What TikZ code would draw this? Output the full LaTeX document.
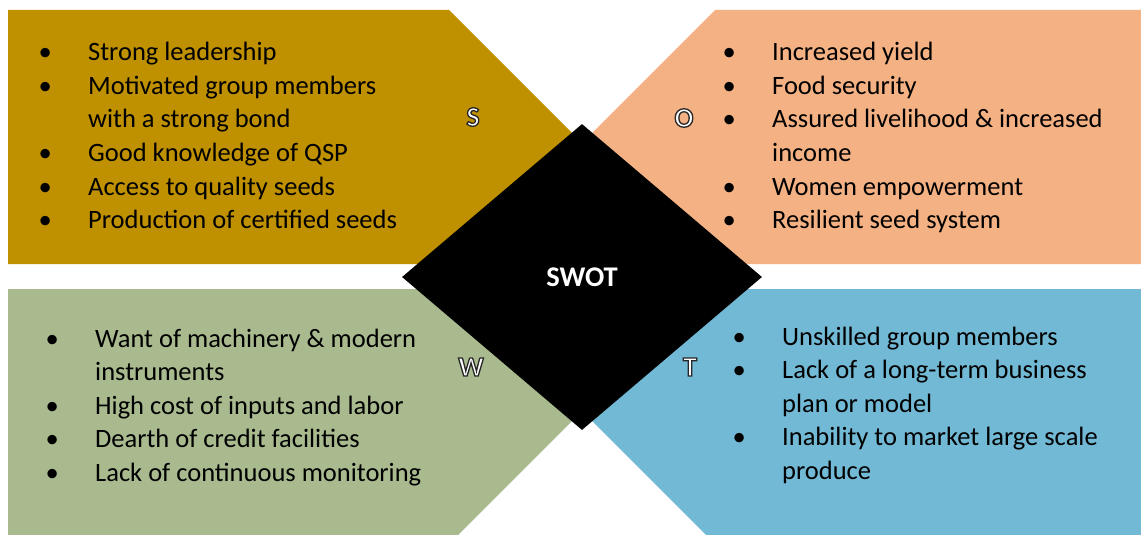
\documentclass[tikz,border=0pt]{standalone}
\usepackage{fontspec}
\setmainfont{Carlito}
\usepackage{tikz}
\usetikzlibrary{shapes}
\definecolor{sgold}{HTML}{BF9000}
\definecolor{osalmon}{HTML}{F4B183}
\definecolor{wsage}{HTML}{A9BA8F}
\definecolor{tblue}{HTML}{72B9D5}
\newcommand{\bul}{\makebox[0pt]{\textbullet}\hspace{43pt}}
\newcommand{\ind}{\hspace{43pt}}
\newcommand{\listfont}{\fontsize{26.5}{33.4}\selectfont}
\newcommand{\linesep}{33.5}
\newcommand{\outlined}[1]{\special{pdf:literal direct 0.15 0.15 0.15 RG 1.3 w 2 Tr}#1\special{pdf:literal direct 0 Tr}}

\begin{document}
\begin{tikzpicture}[x=1pt,y=-1pt,
        itemline/.style={anchor=base west, inner sep=0pt, font=\listfont},
        quadletter/.style={inner sep=0pt, text=white, font=\bfseries\fontsize{28}{28}\selectfont},
        swotbox/.style={diamond, fill=black, minimum width=360pt, minimum height=306pt,
                inner sep=0pt, text=white, font=\bfseries\fontsize{28.5}{28.5}\selectfont}]
                %\draw[help lines] (0,0) grid (1141,535);
                \useasboundingbox (0,0) rectangle (1141,535);
                % quadrants
                \fill[sgold] (8,10) -- (449,10) -- (582,143) -- (582,264) -- (8,264) -- cycle;
                \fill[osalmon] (715,10) -- (1141,10) -- (1141,264) -- (582,264) -- (582,143) -- cycle;
                \fill[wsage] (8,289) -- (582,289) -- (582,411) -- (458,535) -- (8,535) -- cycle;
                \fill[tblue] (582,289) -- (1141,289) -- (1141,535) -- (706,535) -- (582,411) -- cycle;
                \node[swotbox] (swot) at (582,277) {SWOT};
                % strengths
                \foreach \t [count=\i from 0] in {{\bul Strong leadership}, {\bul Motivated group members},
                        {\ind with a strong bond}, {\bul Good knowledge of QSP}, {\bul Access to quality seeds},
                        {\bul Production of certified seeds}}
                        \node[itemline] (s\i) at (45,{61+\linesep*\i}) {\t};
                % opportunities
                \foreach \t [count=\i from 0] in {{\bul Increased yield}, {\bul Food security},
                        {\bul Assured livelihood \& increased}, {\ind income}, {\bul Women empowerment},
                        {\bul Resilient seed system}}
                        \node[itemline] (o\i) at (729,{61+\linesep*\i}) {\t};
                % weaknesses
                \foreach \t [count=\i from 0] in {{\bul Want of machinery \& modern}, {\ind instruments},
                        {\bul High cost of inputs and labor}, {\bul Dearth of credit facilities},
                        {\bul Lack of continuous monitoring}}
                        \node[itemline] (w\i) at (52,{347+\linesep*\i}) {\t};
                % threats
                \foreach \t [count=\i from 0] in {{\bul Unskilled group members}, {\bul Lack of a long-term business},
                        {\ind plan or model}, {\bul Inability to market large scale}, {\ind produce}}
                        \node[itemline] (t\i) at (739,{345+\linesep*\i}) {\t};
                % letters
                \foreach \l/\x/\y in {S/473/117, O/684/118, W/471/367, T/690/367}
                        \node[quadletter] (\l) at (\x,\y) {\outlined{\l}};
        \end{tikzpicture}
\end{document}
